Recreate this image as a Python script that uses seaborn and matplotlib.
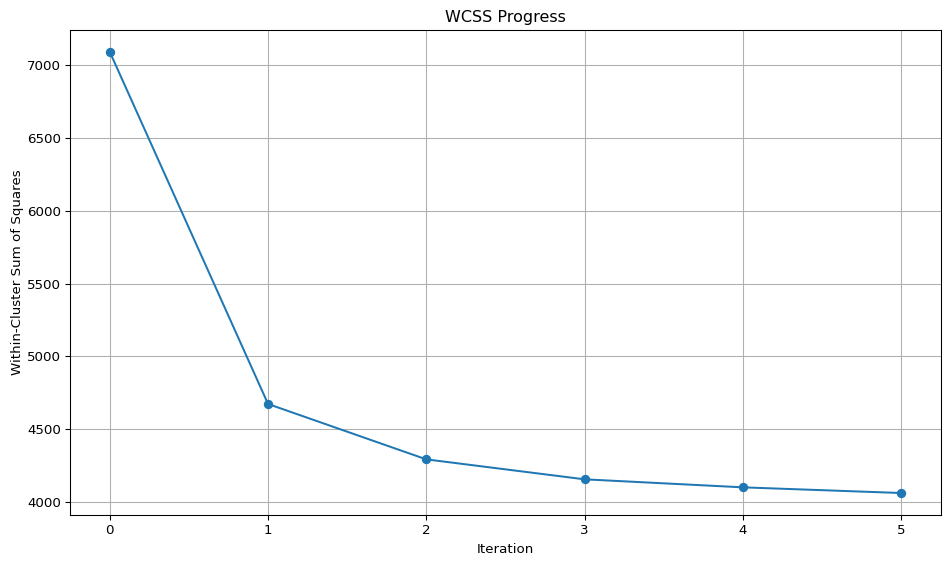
import numpy as np
import pandas as pd
import matplotlib
matplotlib.use('Agg')
import matplotlib.pyplot as plt
import seaborn as sns

iterations = [0, 1, 2, 3, 4, 5]
wcss = [7089, 4673, 4293, 4156, 4101, 4062]

df = pd.DataFrame({"Iteration": iterations, "WCSS": wcss})

plt.rcParams['font.family'] = ['DejaVu Sans']
dpi = 96
fig, ax = plt.subplots(figsize=(950 / dpi, 566 / dpi), dpi=dpi)
sns.lineplot(data=df, x="Iteration", y="WCSS", marker='o', markersize=6,
             markeredgewidth=1, markeredgecolor='#1f77b4', color='#1f77b4',
             linewidth=1.5, ax=ax)
ax.set_title("WCSS Progress")
ax.set_xlabel("Iteration")
ax.set_ylabel("Within-Cluster Sum of Squares", labelpad=2)
ax.grid(True, color='#b0b0b0', linewidth=0.8)
ax.set_axisbelow(True)
fig.subplots_adjust(left=0.074, right=0.99, top=0.947, bottom=0.09)
fig.savefig("out.png", dpi=dpi)
